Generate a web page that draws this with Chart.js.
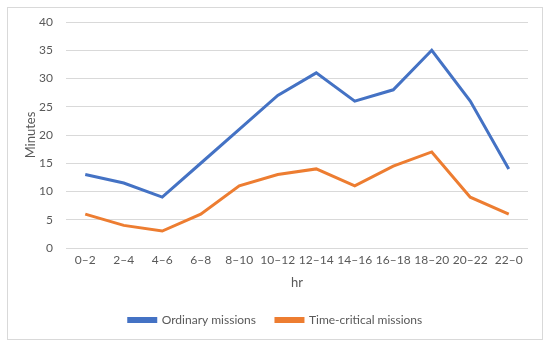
<!DOCTYPE html>
<html>
<head>
<meta charset="utf-8">
<script src="https://cdn.jsdelivr.net/npm/chart.js@4"></script>
<style>
  html, body { margin: 0; padding: 0; background: #fff; }
  #wrap { width: 550px; height: 347px; }
</style>
</head>
<body>
<div id="wrap"><canvas id="myChart" width="550" height="347"></canvas></div>
<script>
  // data
  var hours = ['0\u20132', '2\u20134', '4\u20136', '6\u20138', '8\u201310', '10\u201312',
               '12\u201314', '14\u201316', '16\u201318', '18\u201320', '20\u201322', '22\u20130'];
  var ordinary = [13, 11.5, 9, 15, 21, 27, 31, 26, 28, 35, 26, 14];
  var timeCritical = [6, 4, 3, 6, 11, 13, 14, 11, 14.5, 17, 9, 6];

  var textColor = '#595959';
  var gridColor = '#D9D9D9';
  var fontFamily = 'Lato, "Open Sans", sans-serif';

  // light frame round the whole chart
  var framePlugin = {
    id: 'frame',
    beforeDraw: function(chart) {
      var ctx = chart.ctx;
      ctx.save();
      ctx.fillStyle = '#fff';
      ctx.fillRect(0, 0, chart.width, chart.height);
      ctx.strokeStyle = '#D9D9D9';
      ctx.lineWidth = 1;
      ctx.strokeRect(7.5, 7.5, 535, 332);
      ctx.restore();
    }
  };

  window.addEventListener('load', buildChart);

  function buildChart() {
    var ctx = document.getElementById('myChart').getContext('2d');
    new Chart(ctx, {
      type: 'line',
      data: {
        labels: hours,
        datasets: [
          {
            label: 'Ordinary missions',
            data: ordinary,
            borderColor: '#4472C4',
            backgroundColor: '#4472C4',
            borderWidth: 3,
            pointRadius: 0,
            tension: 0,
            fill: false
          },
          {
            label: 'Time-critical missions',
            data: timeCritical,
            borderColor: '#ED7D31',
            backgroundColor: '#ED7D31',
            borderWidth: 3,
            pointRadius: 0,
            tension: 0,
            fill: false
          }
        ]
      },
      options: {
        responsive: false,
        animation: false,
        layout: { padding: { top: 22, right: 22, bottom: 11, left: 23 } },
        plugins: {
          tooltip: { enabled: false },
          legend: {
            position: 'bottom',
            labels: {
              color: textColor,
              font: { family: fontFamily, size: 12 },
              boxWidth: 27,
              boxHeight: 3,
              padding: 20
            }
          }
        },
        scales: {
          x: {
            offset: true,
            grid: { display: false, drawTicks: false },
            border: { display: false },
            ticks: { color: textColor, font: { family: fontFamily, size: 12 }, maxRotation: 0, autoSkip: false, padding: 5 },
            title: { display: true, text: 'hr', color: textColor, font: { family: fontFamily, size: 13 }, padding: { top: 3, bottom: 3 } }
          },
          y: {
            min: 0,
            max: 40,
            grid: { color: gridColor, lineWidth: 1, drawTicks: false },
            border: { display: false },
            ticks: { stepSize: 5, color: textColor, font: { family: fontFamily, size: 12 }, padding: 13 },
            title: { display: true, text: 'Minutes', color: textColor, font: { family: fontFamily, size: 13 }, padding: { top: 0, bottom: 4 } },
            // keep the axis as narrow as in the reference
            afterFit: function(scale) { scale.width = 43; }
          }
        }
      },
      plugins: [framePlugin]
    });
  }
</script>
</body>
</html>
